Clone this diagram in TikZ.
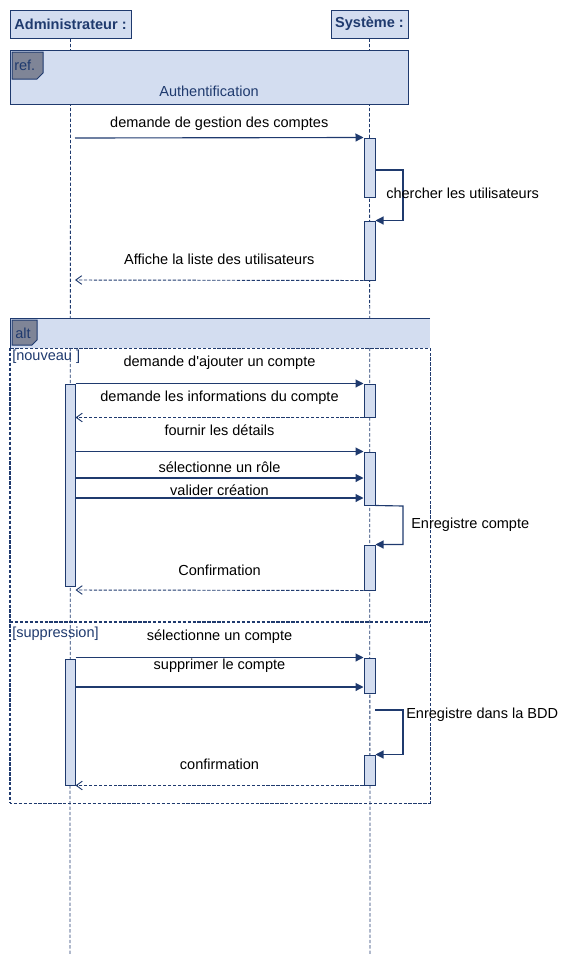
\documentclass[tikz,border=0pt]{standalone}
\usepackage{fontspec}
\setmainfont{Liberation Sans}
\usetikzlibrary{arrows.meta,fit}
\definecolor{navy}{HTML}{1F3A6E}
\definecolor{lblue}{HTML}{D3DDF0}
\definecolor{tabgray}{HTML}{7F8597}
\begin{document}
\begin{tikzpicture}[x=0.75pt,y=-0.75pt,
  every node/.style={font=\fontsize{10.9}{12}\selectfont},
  actor/.style={draw=navy, fill=lblue, line width=0.75pt, inner sep=0,
    minimum height=21pt, font=\fontsize{10.9}{12}\selectfont\bfseries, text=navy},
  lifeline/.style={draw=navy, line width=0.6pt, dash pattern=on 2.5pt off 1.5pt},
  act/.style={draw=navy, fill=lblue, line width=0.75pt, inner sep=0pt},
  msg/.style={draw=navy, line width=0.85pt, -{Triangle[length=6pt,width=6pt]}},
  ret/.style={draw=navy, line width=0.7pt, dash pattern=on 2.5pt off 1.2pt,
    -{Straight Barb[length=4.5pt,width=6.5pt,line width=0.7pt]}},
  lbl/.style={text=black, inner sep=0pt},
  up/.style={yshift=#1*0.75pt},
  framelbl/.style={text=navy, inner sep=0pt, anchor=west},
  tab/.style={draw=navy, fill=tabgray, line width=0.75pt},
]
\useasboundingbox (0,0) rectangle (580,964);

% actors
\node[actor, minimum width=90.75pt] (adm) at (70.5,24) {Administrateur :};
\node[actor, minimum width=57.75pt] (sys) at (369.5,24) {Système :};
\coordinate (admEnd) at (70,955);
\coordinate (sysEnd) at (370,955);
\draw[lifeline] (adm.south) -- (admEnd);
\draw[lifeline] (sys.south) -- (sysEnd);

% ref frame
\node[draw=navy, fill=lblue, line width=0.75pt, inner sep=0pt, fit={(10,50)(408,104)}] (ref) {};
\draw[tab] (12,52) -- (43,52) -- (43,73) -- (37,79) -- (12,79) -- cycle;
\node[framelbl] (reft) at (14,65) {ref.};
\node[text=navy] (auth) at (209,91) {Authentification};

% alt frame
\fill[lblue] (10,318) rectangle (430,348);
\draw[navy, line width=0.75pt] (430,318) -- (10,318) -- (10,348);
\draw[navy, line width=0.75pt, dash pattern=on 2.5pt off 1.2pt] (10,348) rectangle (430,803);
\draw[navy, line width=1.1pt, dash pattern=on 2.5pt off 1.2pt] (10,348) -- (10,803);
\draw[navy, line width=1.5pt, dash pattern=on 2.5pt off 1.2pt] (10,622) -- (430,622);
\draw[tab] (12,320) -- (37,320) -- (37,340) -- (32,345) -- (12,345) -- cycle;
\node[framelbl] (altt) at (15,333) {alt};
\node[framelbl] (g1) at (12,357) {[nouveau ]};
\node[framelbl] (g2) at (12,634) {[suppression]};

% activation boxes
\node[act, fit={(364,138)(375,197)}] (s1) {};
\node[act, fit={(364,221)(375,280)}] (s2) {};
\node[act, fit={(65,384)(75,586)}] (a3) {};
\node[act, fit={(364,384)(375,417)}] (s3) {};
\node[act, fit={(364,452)(375,505)}] (s4) {};
\node[act, fit={(364,545)(375,590)}] (s5) {};
\node[act, fit={(65,659)(75,785)}] (a6) {};
\node[act, fit={(364,658)(375,693)}] (s6) {};
\node[act, fit={(364,755)(375,785)}] (s7) {};

\coordinate (m1) at (75,138);
\coordinate (m2) at (75,280);
\coordinate (y478) at (0,478);
\coordinate (y498) at (0,498);
\coordinate (y590) at (0,590);
\coordinate (y687) at (0,687);
\coordinate (self3) at (375,710);

% messages
\draw[msg] (m1) -- node[lbl, up=14] {demande de gestion des comptes} (s1.north west);
\draw[msg] (s1.east |- 0,170) -- (403,170) |- (s2.north east);
\node[lbl, anchor=west] (l2) at (386,193) {chercher les utilisateurs};
\draw[ret] (s2.south west) -- node[lbl, up=21] {Affiche la liste des utilisateurs} (m2);

\draw[msg] (a3.east |- s3.north west) -- node[lbl, up=21] {demande d\textquotesingle ajouter un compte} (s3.north west);
\draw[ret] (s3.south west) -- node[lbl, up=20] {demande les informations du compte} (a3.east |- s3.south west);
\draw[msg] (a3.east |- s4.north west) -- node[lbl, up=21] {fournir les détails} (s4.north west);
\draw[msg] (a3.east |- y478) -- node[lbl, up=11] {sélectionne un rôle} (s4.west |- y478);
\draw[msg] (a3.east |- y498) -- node[lbl, up=8] {valider création} (s4.west |- y498);
\draw[msg] (s4.south east) -- (403,506) |- (s5.north east);
\node[lbl, anchor=west] (l8) at (411,525) {Enregistre compte};
\draw[ret] (s5.south west) -- node[lbl, up=20] {Confirmation} (a3.east |- y590);

\draw[msg] (a6.east |- s6.north west) -- node[lbl, up=21] {sélectionne un compte} (s6.north west);
\draw[msg] (a6.east |- y687) -- node[lbl, up=21] {supprimer le compte} (s6.west |- y687);
\draw[msg] (self3) -- (403,710) |- (s7.north east);
\node[lbl, anchor=west] (l12) at (406,715) {Enregistre dans la BDD};
\draw[ret] (s7.south west) -- node[lbl, up=21] {confirmation} (a6.east |- s7.south west);
\end{tikzpicture}
\end{document}
